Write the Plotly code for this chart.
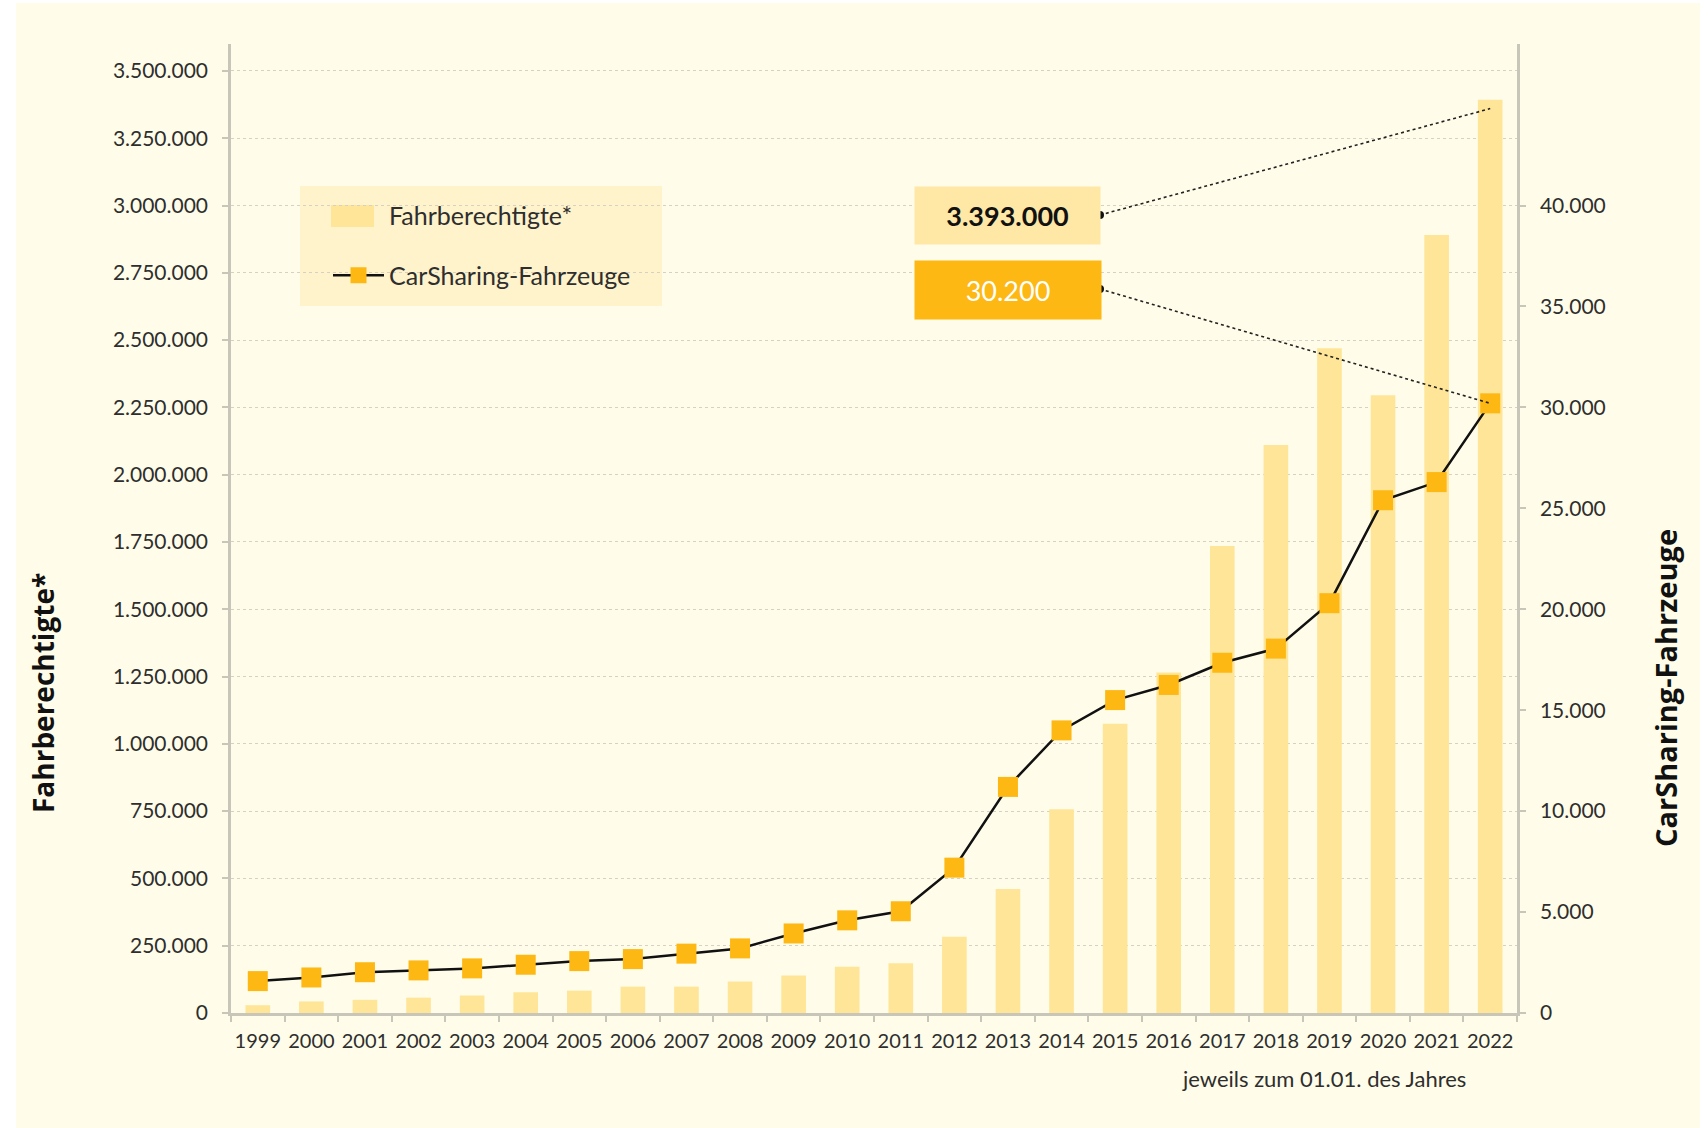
import plotly.graph_objects as go

# ---------------- data ----------------
years = [str(y) for y in range(1999, 2023)]
fahrberechtigte = [29000, 43000, 49000, 57000, 65000, 77000, 83000, 98000, 98000,
                   117000, 139000, 172000, 185000, 283000, 461000, 757000, 1075000,
                   1265000, 1735000, 2110000, 2470000, 2295000, 2890000, 3393000]
carsharing = [1580, 1760, 2020, 2110, 2210, 2390, 2570, 2670, 2940, 3200, 3940, 4590,
              5040, 7200, 11200, 14000, 15500, 16250, 17350, 18050, 20300, 25400,
              26300, 30200]
left_ticks = list(range(0, 3500001, 250000))
right_ticks = list(range(0, 40001, 5000))

def de(n):
    return f"{n:,}".replace(",", ".")

# ---------------- layout geometry ----------------
W_PX, H_PX = 1708, 1128
L, R, T, B = 231, 1517, 44, 1013
PW, PH = R - L, B - T
YMAX = 3600000
Y2MAX = YMAX / 75

def px(x):
    return (x - L) / PW

def py(y):
    return (B - y) / PH

def xdata(x):
    return -0.5 + px(x) * len(years)

CREAM = "#FFFDE9"
BAR = "#FFE597"
ORANGE = "#FDB813"
LEGBG = "#FFF3CB"
TXT = "#2e2e2e"
AXIS = "#c8c6b8"
FONT = "Lato"

fig = go.Figure()
fig.add_trace(go.Bar(
    x=years, y=fahrberechtigte, name="Fahrberechtigte*",
    marker=dict(color=BAR, line=dict(width=0)), width=0.46,
    legendgroup="a", yaxis="y", hoverinfo="x+y"))
fig.add_trace(go.Scatter(
    x=years, y=carsharing, name="CarSharing-Fahrzeuge", yaxis="y2",
    mode="lines+markers", legendgroup="b",
    line=dict(color="#111111", width=2.5),
    marker=dict(symbol="square", size=20, color=ORANGE, line=dict(width=0))))

shapes = [
    # cream background
    dict(type="rect", xref="paper", yref="paper", layer="below",
         x0=px(16), x1=px(1700), y0=py(1128), y1=py(3),
         fillcolor=CREAM, line=dict(width=0)),
    # legend background
    dict(type="rect", xref="paper", yref="paper", layer="between",
         x0=px(300), x1=px(662), y0=py(306), y1=py(186),
         fillcolor=LEGBG, line=dict(width=0)),
    # wide legend swatch for the bar series
    dict(type="rect", xref="paper", yref="paper", layer="between",
         x0=px(331), x1=px(374), y0=py(227), y1=py(205),
         fillcolor=BAR, line=dict(width=0)),
    # dotted leader lines
    dict(type="line", xref="x", yref="y",
         x0=xdata(1100), y0=py(215) * YMAX, x1=len(years) - 1, y1=3360000,
         line=dict(color="#222222", width=1.6, dash="dot"), layer="above"),
    dict(type="line", xref="x", yref="y2",
         x0=xdata(1100), y0=py(289) * Y2MAX, x1=len(years) - 1, y1=carsharing[-1],
         line=dict(color="#222222", width=1.6, dash="dot"), layer="above"),
]
for yy in (215, 289):
    shapes.append(dict(type="circle", xref="paper", yref="paper",
                       xsizemode="pixel", ysizemode="pixel",
                       xanchor=px(1100), yanchor=py(yy),
                       x0=-4, x1=4, y0=-4, y1=4,
                       fillcolor="#111111", line=dict(width=0), layer="above"))

def ann(x, y, text, **kw):
    d = dict(xref="paper", yref="paper", x=px(x), y=py(y), text=text,
             showarrow=False, xanchor="center", yanchor="middle")
    d.update(kw)
    return d

annotations = [
    ann(1007.5, 215.5, "<b>" + de(fahrberechtigte[-1]) + "</b>",
        width=185, height=57, bgcolor="#FFE8A6", borderpad=0,
        font=dict(family=FONT, size=27, color="#111111")),
    ann(1008, 290, de(carsharing[-1]),
        width=186, height=58, bgcolor=ORANGE, borderpad=0,
        font=dict(family=FONT, size=27, color="#ffffff")),
    ann(43, 693, "<b>Fahrberechtigte*</b>", textangle=-90,
        font=dict(family="Open Sans", size=28, color="#111111")),
    ann(1665, 688, "<b>CarSharing-Fahrzeuge</b>", textangle=-90,
        font=dict(family="Open Sans", size=29, color="#111111")),
    ann(1324, 1078, "jeweils zum 01.01. des Jahres",
        font=dict(family=FONT, size=22, color=TXT)),
]

fig.update_layout(
    width=W_PX, height=H_PX,
    margin=dict(l=L, r=W_PX - R, t=T, b=H_PX - B, autoexpand=False),
    paper_bgcolor="#ffffff", plot_bgcolor=CREAM,
    font=dict(family=FONT, size=21, color=TXT),
    bargap=0.54,
    showlegend=True,
    legend=dict(x=px(328), y=py(192), xanchor="left", yanchor="top",
                bgcolor="rgba(0,0,0,0)", borderwidth=0,
                font=dict(family=FONT, size=25, color=TXT),
                tracegroupgap=25, itemwidth=51),
    xaxis=dict(type="category", categoryarray=years, range=[-0.5, len(years) - 0.5],
               showline=True, linecolor=AXIS, linewidth=2.5, showgrid=False,
               ticks="outside", ticklen=6, tickcolor=AXIS, tickwidth=1.5,
               tickson="boundaries", tickangle=0, ticklabelstandoff=8,
               tickfont=dict(family=FONT, size=20, color=TXT),
               fixedrange=True),
    yaxis=dict(range=[0, YMAX], tickvals=left_ticks, ticktext=[de(v) for v in left_ticks],
               showline=True, linecolor=AXIS, linewidth=2.5,
               showgrid=True, gridcolor="#d6d1c2", griddash="dot", gridwidth=1.2,
               ticks="outside", ticklen=6, tickcolor=AXIS, tickwidth=1.5,
               zeroline=False, tickfont=dict(family=FONT, size=21, color=TXT),
               ticklabelstandoff=10),
    yaxis2=dict(range=[0, Y2MAX], overlaying="y", side="right",
                tickvals=right_ticks, ticktext=[de(v) for v in right_ticks],
                showline=True, linecolor=AXIS, linewidth=2.5, showgrid=False,
                ticks="outside", ticklen=6, tickcolor=AXIS, tickwidth=1.5,
                zeroline=False, tickfont=dict(family=FONT, size=21, color=TXT),
                ticklabelstandoff=10),
    shapes=shapes,
    annotations=annotations,
)

fig.write_html("out.html", config={"displayModeBar": False},
               post_script="document.body.style.margin='0px';")
